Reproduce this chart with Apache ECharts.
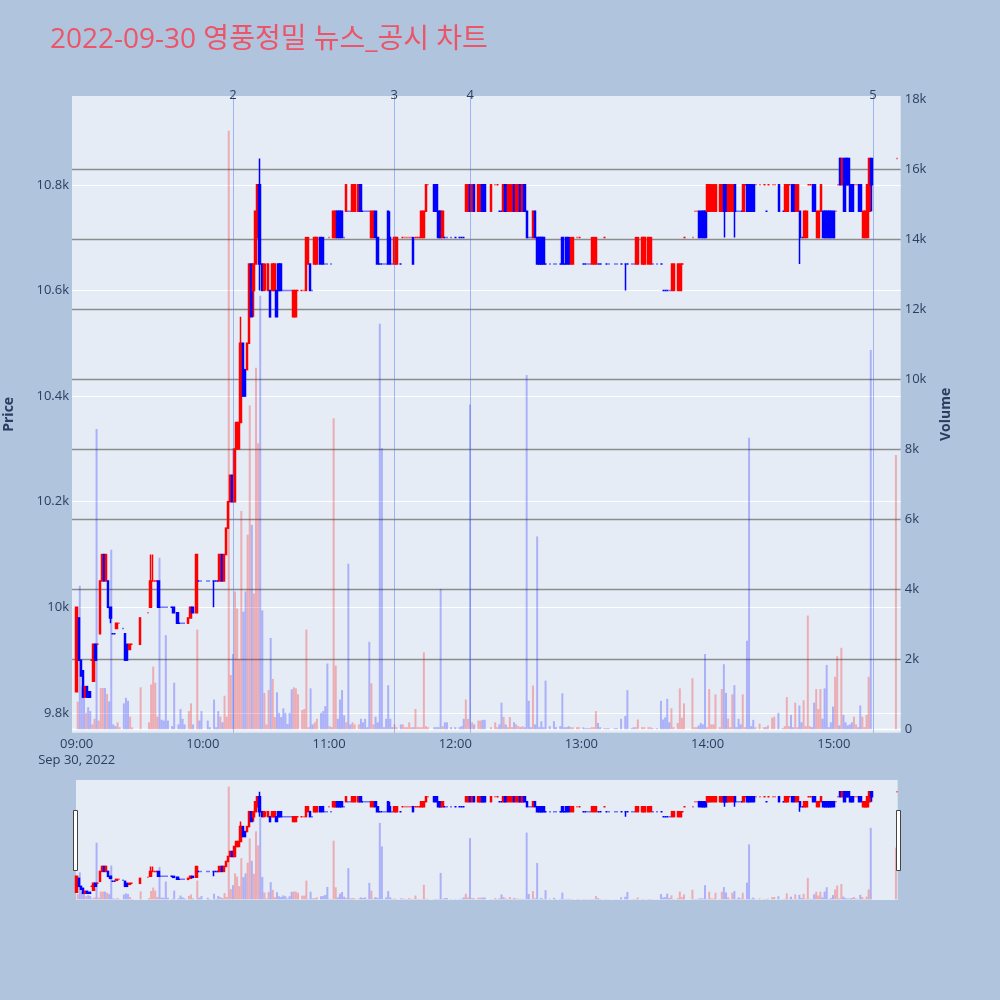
<!DOCTYPE html>
<html><head><meta charset="utf-8">
<script src="https://cdn.jsdelivr.net/npm/echarts@6/dist/echarts.min.js"></script>
<style>html,body{margin:0;padding:0;background:#B0C4DE;}#c{width:1000px;height:1000px;}</style>
</head><body><div id="c"></div>
<script>
const chartTitle = '2022-09-30 영풍정밀 뉴스_공시 차트';
const dateLabel = 'Sep 30, 2022';
// rows: [time, open, close, low, high, volume]
const s09 = [
['09:00',9840,10000,9840,10000,790],['09:01',9980,9900,9900,9980,4100],['09:02',9900,9870,9870,9900,1230],
['09:03',9880,9830,9830,9880,900],['09:04',9830,9850,9830,9850,470],['09:05',9850,9830,9830,9850,630],
['09:06',9840,9830,9830,9840,520],['09:07',9900,9900,9900,9900,140],['09:08',9860,9930,9860,9930,300],
['09:09',9930,9900,9900,9930,8580],['09:10',9930,9930,9930,9930,250],['09:11',9950,10050,9950,10050,1180],
['09:12',10050,10100,10050,10100,1180],['09:13',10100,10050,10050,10100,1180],['09:14',10050,10100,10050,10100,1010],
['09:15',10050,10000,10000,10050,800],['09:16',10000,9980,9970,10000,5130],['09:17',9950,9950,9950,9950,140],
['09:18',9950,9950,9950,9950,90],['09:19',9960,9970,9960,9970,200],['09:20',9970,9970,9970,9970,60],
['09:22',9960,9960,9960,9960,740],['09:23',9950,9900,9900,9950,900],['09:24',9930,9900,9900,9930,815],
['09:25',9920,9930,9920,9930,360],['09:26',9930,9930,9930,9930,56],['09:30',9930,9980,9930,9980,1200],
['09:34',9990,9990,9990,9990,200],['09:35',10000,10050,10000,10100,1280],['09:36',10050,10050,10050,10100,1790],
['09:37',10050,10050,10050,10050,1330],['09:38',10050,10050,10050,10050,360],['09:39',10050,10000,10000,10050,4900],
['09:40',10000,10000,10000,10000,275],['09:41',10000,10000,10000,10000,250],['09:42',10000,10000,10000,10000,2690],
['09:43',10000,10000,10000,10000,250],['09:45',10000,10000,10000,10000,90],['09:46',10000,9990,9990,10000,1330],
['09:48',9990,9970,9970,9990,140],['09:49',9970,9970,9970,9970,580],['09:50',9970,9970,9970,9970,300],
['09:51',9970,9970,9970,9970,140],['09:53',9970,9980,9970,9980,520],['09:54',9980,10000,9980,10000,740],
['09:55',10000,9990,9990,10000,140],['09:57',9990,10100,9990,10100,2850],['09:58',10050,10050,10050,10050,250],
['09:59',10050,10050,10050,10050,520]
];
const s10 = [
['10:02',10050,10050,10050,10050,250],['10:03',10050,10050,10050,10050,60],['10:05',10050,10050,10000,10050,850],
['10:06',10050,10050,10050,10050,60],['10:07',10050,10050,10050,10050,520],['10:08',10050,10100,10050,10100,360],
['10:09',10100,10050,10050,10100,200],['10:10',10050,10100,10050,10100,960],['10:11',10100,10150,10100,10150,360],
['10:12',10150,10200,10150,10200,17100],['10:13',10200,10250,10200,10250,1550],['10:14',10250,10200,10200,10250,2150],
['10:15',10200,10300,10200,10300,3940],['10:16',10300,10350,10300,10350,3450],['10:17',10300,10350,10300,10350,2000],
['10:18',10350,10500,10350,10550,6240],['10:19',10500,10400,10400,10500,3360],['10:20',10450,10400,10400,10450,3940],
['10:21',10450,10500,10450,10500,5560],['10:22',10500,10650,10500,10650,9250],['10:23',10650,10550,10550,10650,5840],
['10:24',10600,10650,10550,10650,3880],['10:25',10650,10750,10650,10750,10330],['10:26',10700,10800,10700,10800,8170],
['10:27',10800,10650,10600,10850,12390],['10:28',10650,10600,10600,10650,3400],['10:29',10600,10650,10600,10650,1040],
['10:30',10650,10650,10600,10650,140],['10:31',10600,10650,10600,10650,1120],['10:32',10600,10550,10550,10600,2610],
['10:33',10600,10650,10600,10650,1440],['10:34',10600,10650,10600,10650,350],['10:35',10600,10550,10550,10600,1060],
['10:36',10650,10600,10600,10650,470],['10:37',10650,10600,10600,10650,350],['10:38',10600,10600,10600,10600,600],
['10:39',10600,10600,10600,10600,470],['10:40',10600,10600,10600,10600,150],['10:41',10600,10600,10600,10600,470],
['10:42',10600,10600,10600,10600,1140],['10:43',10550,10600,10550,10600,1200],['10:44',10550,10600,10550,10600,1170],
['10:45',10600,10600,10600,10600,1000],['10:47',10600,10600,10600,10600,550],['10:48',10600,10600,10600,10600,580],
['10:49',10600,10700,10600,10700,2850],['10:50',10650,10700,10650,10700,60],['10:51',10650,10600,10600,10650,1170],
['10:52',10600,10600,10600,10600,140],['10:53',10650,10700,10650,10700,200],['10:54',10650,10700,10650,10700,300],
['10:56',10700,10650,10650,10700,470],['10:57',10700,10650,10650,10700,520],['10:58',10650,10650,10650,10650,660],
['10:59',10650,10650,10650,10650,1880]
];
const s11 = [
['11:00',10700,10700,10700,10700,90],['11:01',10650,10650,10650,10650,60],['11:02',10700,10750,10700,10750,8890],
['11:03',10700,10750,10700,10750,1820],['11:04',10750,10700,10700,10750,300],['11:05',10750,10700,10700,10750,850],
['11:06',10750,10700,10700,10750,1120],['11:07',10700,10700,10700,10700,400],['11:08',10750,10800,10750,10800,200],
['11:09',10750,10750,10750,10750,4730],['11:10',10750,10750,10750,10750,140],['11:11',10750,10800,10750,10800,200],
['11:12',10750,10800,10750,10800,140],['11:14',10750,10800,10750,10800,140],['11:15',10800,10750,10750,10800,300],
['11:16',10750,10750,10750,10750,200],['11:17',10750,10750,10750,10750,300],['11:18',10750,10750,10750,10750,60],
['11:19',10750,10750,10750,10750,2500],['11:20',10700,10750,10700,10750,1310],['11:21',10700,10750,10700,10750,140],
['11:22',10750,10700,10700,10750,360],['11:23',10700,10650,10650,10700,200],['11:24',10650,10650,10650,10650,11590],
['11:25',10650,10650,10650,10650,8030],['11:26',10650,10650,10650,10650,60],['11:27',10650,10650,10650,10650,300],
['11:28',10750,10650,10650,10750,1260],['11:29',10700,10650,10650,10750,300],['11:30',10650,10650,10650,10650,60],
['11:31',10650,10700,10650,10700,140],['11:32',10650,10700,10650,10700,60],['11:34',10650,10650,10650,10650,140],
['11:35',10700,10700,10700,10700,140],['11:36',10700,10700,10700,10700,60],['11:37',10700,10700,10700,10700,60],
['11:38',10700,10700,10700,10700,200],['11:39',10700,10700,10700,10700,60],['11:40',10700,10650,10650,10700,60],
['11:41',10700,10700,10700,10700,580],['11:42',10700,10700,10700,10700,60],['11:43',10700,10700,10700,10700,60],
['11:44',10700,10750,10700,10750,60],['11:45',10700,10750,10700,10750,2200],['11:46',10750,10800,10750,10800,90],
['11:47',10800,10800,10800,10800,60],['11:50',10800,10750,10750,10800,60],['11:51',10800,10750,10750,10800,60],
['11:52',10750,10700,10700,10750,60],['11:53',10750,10700,10700,10750,4010],['11:54',10700,10750,10700,10750,90],
['11:55',10700,10700,10700,10700,200],['11:56',10700,10700,10700,10700,200],['11:58',10700,10700,10700,10700,60]
];
const s12 = [
['12:00',10700,10700,10700,10700,60],['12:02',10700,10700,10700,10700,60],['12:03',10700,10700,10700,10700,90],
['12:04',10700,10700,10700,10700,300],['12:05',10750,10800,10750,10800,850],['12:06',10750,10800,10750,10800,300],
['12:07',10800,10750,10750,10800,9280],['12:08',10750,10800,10750,10800,200],['12:09',10800,10750,10750,10800,140],
['12:11',10750,10800,10750,10800,250],['12:12',10750,10800,10750,10800,250],['12:13',10800,10750,10750,10800,270],
['12:14',10800,10750,10750,10800,270],['12:17',10750,10800,10750,10800,60],['12:19',10800,10800,10800,10800,200],
['12:20',10800,10800,10800,10800,60],['12:21',10750,10750,10750,10750,140],['12:22',10750,10750,10750,10750,760],
['12:23',10750,10800,10750,10800,350],['12:24',10800,10750,10750,10800,140],['12:25',10750,10800,10750,10800,60],
['12:26',10750,10800,10750,10800,350],['12:27',10750,10800,10750,10800,60],['12:28',10800,10750,10750,10800,200],
['12:29',10750,10800,10750,10800,140],['12:30',10750,10800,10750,10800,90],['12:31',10800,10750,10750,10800,60],
['12:32',10750,10800,10750,10800,90],['12:33',10800,10750,10750,10800,60],['12:34',10750,10700,10700,10750,10120],
['12:35',10700,10700,10700,10700,815],['12:36',10700,10700,10700,10700,60],['12:37',10700,10750,10700,10750,1250],
['12:38',10750,10700,10700,10750,140],['12:39',10700,10650,10650,10700,5510],['12:40',10700,10650,10650,10700,60],
['12:41',10700,10650,10650,10700,230],['12:42',10700,10650,10650,10700,60],['12:43',10650,10650,10650,10650,1390],
['12:45',10650,10650,10650,10650,90],['12:47',10650,10650,10650,10650,230],['12:48',10650,10650,10650,10650,60],
['12:50',10650,10650,10650,10650,90],['12:51',10700,10650,10650,10700,1030],['12:52',10650,10650,10650,10650,60],
['12:53',10700,10650,10650,10700,60],['12:54',10700,10650,10650,10700,90],['12:55',10650,10700,10650,10700,60],
['12:56',10650,10700,10650,10700,56],['12:58',10700,10700,10700,10700,60],['12:59',10700,10700,10700,10700,60]
];
const s13 = [
['13:01',10650,10650,10650,10650,56],['13:02',10650,10650,10650,10650,30],['13:03',10650,10650,10650,10650,30],
['13:04',10650,10650,10650,10650,30],['13:05',10650,10700,10650,10700,60],['13:06',10650,10700,10650,10700,60],
['13:07',10650,10700,10650,10700,520],['13:08',10650,10650,10650,10650,180],['13:09',10650,10650,10650,10650,60],
['13:11',10700,10700,10700,10700,30],['13:12',10650,10650,10650,10650,30],['13:13',10650,10650,10650,10650,30],
['13:16',10650,10650,10650,10650,30],['13:17',10650,10650,10650,10650,30],['13:19',10650,10650,10650,10650,300],
['13:21',10650,10650,10600,10650,380],['13:22',10650,10650,10650,10650,1120],['13:24',10650,10650,10650,10650,30],
['13:25',10650,10650,10650,10650,60],['13:26',10650,10700,10650,10700,60],['13:27',10650,10700,10650,10700,280],
['13:29',10650,10700,10650,10700,60],['13:30',10650,10700,10650,10700,60],['13:32',10650,10700,10650,10700,60],
['13:33',10650,10700,10650,10700,60],['13:34',10650,10650,10650,10650,30],['13:36',10650,10650,10650,10650,30],
['13:38',10650,10650,10650,10650,815],['13:39',10600,10600,10600,10600,280],['13:40',10600,10600,10600,10600,340],
['13:41',10600,10600,10600,10600,870],['13:42',10600,10600,10600,10600,200],['13:43',10600,10650,10600,10650,600],
['13:44',10600,10650,10600,10650,60],['13:46',10600,10650,10600,10650,180],['13:47',10600,10650,10600,10650,1170],
['13:48',10650,10650,10650,10650,330],['13:49',10700,10700,10700,10700,740],['13:53',10700,10700,10700,10700,1460],
['13:54',10750,10750,10750,10750,60],['13:55',10750,10750,10750,10750,60],['13:56',10750,10700,10700,10750,110],
['13:57',10750,10700,10700,10750,180],['13:58',10750,10700,10700,10750,140],['13:59',10750,10700,10700,10750,2150]
];
const s14 = [
['14:00',10750,10800,10750,10800,60],['14:01',10750,10800,10750,10800,1150],['14:02',10750,10800,10750,10800,140],
['14:03',10750,10800,10750,10800,140],['14:04',10750,10800,10750,10800,1000],['14:06',10750,10800,10750,10800,60],
['14:07',10750,10800,10750,10800,1150],['14:08',10800,10750,10700,10800,1860],['14:09',10800,10750,10750,10800,1040],
['14:10',10750,10800,10750,10800,300],['14:11',10750,10800,10750,10800,60],['14:12',10750,10800,10750,10800,1000],
['14:13',10800,10750,10700,10800,1260],['14:14',10750,10750,10750,10750,60],['14:15',10750,10750,10750,10750,300],
['14:16',10750,10750,10750,10750,140],['14:17',10750,10800,10750,10800,1000],['14:18',10800,10800,10800,10800,60],
['14:19',10800,10750,10750,10800,2530],['14:20',10800,10750,10750,10800,8330],['14:21',10800,10750,10750,10800,90],
['14:22',10800,10750,10750,10800,270],['14:23',10800,10800,10800,10800,60],['14:25',10800,10800,10800,10800,160],
['14:27',10800,10800,10800,10800,60],['14:28',10750,10750,10750,10750,60],['14:29',10800,10800,10800,10800,110],
['14:31',10800,10800,10800,10800,330],['14:32',10800,10800,10800,10800,360],['14:34',10800,10750,10750,10800,470],
['14:36',10750,10750,10750,10750,30],['14:37',10750,10800,10750,10800,90],['14:38',10750,10800,10750,10800,920],
['14:39',10800,10800,10800,10800,90],['14:40',10800,10750,10750,10800,410],['14:41',10800,10750,10750,10800,60],
['14:42',10750,10800,10750,10800,760],['14:43',10750,10800,10750,10800,60],['14:44',10750,10700,10650,10750,680],
['14:45',10700,10700,10700,10700,200],['14:46',10700,10750,10700,10750,830],['14:47',10700,10750,10700,10750,90],
['14:48',10800,10800,10800,10800,3250],['14:49',10800,10800,10800,10800,90],['14:50',10800,10750,10750,10800,60],
['14:51',10800,10750,10750,10800,760],['14:52',10700,10750,10700,10750,1150],['14:53',10700,10750,10700,10750,580],
['14:54',10750,10800,10750,10800,1150],['14:55',10750,10700,10700,10750,300],['14:56',10750,10700,10700,10750,1170],
['14:57',10750,10700,10700,10750,1840],['14:58',10750,10700,10700,10750,60],['14:59',10750,10700,10700,10750,200]
];
const s15 = [
['15:00',10750,10700,10700,10750,650],['15:01',10750,10750,10750,10750,1500],['15:02',10800,10800,10800,10800,2090],
['15:03',10850,10800,10800,10850,110],['15:04',10800,10850,10800,10850,2330],['15:05',10850,10750,10750,10850,410],
['15:06',10850,10800,10800,10850,200],['15:07',10850,10800,10800,10850,110],['15:08',10800,10750,10750,10800,140],
['15:09',10800,10750,10750,10800,200],['15:10',10800,10800,10800,10800,360],['15:11',10800,10800,10800,10800,140],
['15:12',10800,10750,10750,10800,60],['15:13',10800,10750,10750,10800,680],['15:14',10700,10750,10700,10750,360],
['15:15',10700,10750,10700,10750,60],['15:16',10700,10800,10700,10800,410],['15:17',10750,10850,10750,10850,1500],
['15:18',10850,10800,10750,10850,10840],['15:30',10850,10850,10850,10850,7840]
];
const newsTimes = ['10:14:15','11:31:00','12:07:10','15:18:35'];
const newsLabels = ['2','3','4','5'];

const rows = [].concat(s09, s10, s11, s12, s13, s14, s15);
function ts(t) { const p = t.split(':').map(Number); return new Date(2022, 8, 30, p[0], p[1], p[2] || 0).getTime(); }
const xMin = ts('08:57:46'), xMax = ts('15:31:48');

const UP = '#ff0000', DOWN = '#0000ff';
const UPV = 'rgba(255,0,0,0.27)', DOWNV = 'rgba(0,0,255,0.25)';
let prevClose = null, prevInc = true;
const candleData = [], volData = [];
rows.forEach(function (r) {
  const t = r[0], o = r[1], c = r[2], l = r[3], h = r[4], v = r[5];
  let inc;
  if (c > o) inc = true; else if (c < o) inc = false;
  else if (prevClose !== null && c !== prevClose) inc = c > prevClose;
  else inc = prevInc;
  prevInc = inc; prevClose = c;
  const col = inc ? UP : DOWN;
  const x = ts(t);
  candleData.push({ value: [x, o, c, l, h], itemStyle: { color: col, color0: col, borderColor: col, borderColor0: col } });
  volData.push({ value: [x, v], itemStyle: { color: inc ? UPV : DOWNV } });
});

const FONT = "'Open Sans', 'Noto Sans CJK KR', sans-serif";
const TXT = '#2a3f5f';
const hiddenX = function (gi) { return { type: 'time', gridIndex: gi, min: xMin, max: xMax, show: false }; };
const G = { left: 72, right: 99.3, outerBoundsMode: 'none', containLabel: false };

const chart = echarts.init(document.getElementById('c'), null, { renderer: 'canvas' });
chart.setOption({
  animation: false,
  backgroundColor: '#B0C4DE',
  textStyle: { fontFamily: FONT },
  title: { text: chartTitle, left: 45, top: 21, textStyle: { color: '#ec5468', fontSize: 28, fontWeight: 'normal', fontFamily: FONT } },
  grid: [
    Object.assign({}, G, { top: 96, bottom: 267.3, show: true, backgroundColor: '#E5ECF6', borderWidth: 0 }),
    Object.assign({}, G, { top: 79.16, bottom: 181.36 }),
    Object.assign({}, G, { top: 99.3, bottom: 270.7 }),
    Object.assign({}, G, { top: 780, bottom: 100 }),
    Object.assign({}, G, { top: 780, bottom: 100 }),
    Object.assign({}, G, { left: 76, right: 102.3, top: 780, bottom: 100, show: true, backgroundColor: '#E5ECF6', borderWidth: 0 })
  ],
  xAxis: [
    { type: 'time', gridIndex: 0, min: xMin, max: xMax, minInterval: 3600000, maxInterval: 3600000,
      axisLine: { show: false }, axisTick: { show: false }, splitLine: { show: false },
      axisLabel: { color: TXT, fontSize: 13, margin: 4, lineHeight: 16, hideOverlap: false,
        formatter: function (v) {
          const d = new Date(v);
          if (d.getMinutes() !== 0 || d.getSeconds() !== 0) return '';
          const s = String(d.getHours()).padStart(2, '0') + ':00';
          return d.getHours() === 9 ? s + '\n' + dateLabel : s;
        } } },
    hiddenX(1), hiddenX(2), hiddenX(3), hiddenX(4), hiddenX(5)
  ],
  yAxis: [
    { type: 'value', gridIndex: 0, min: 0, max: 1, position: 'left', axisLabel: { show: false }, axisLine: { show: false }, axisTick: { show: false }, splitLine: { show: false },
      name: 'Price', nameLocation: 'middle', nameGap: 56, nameRotate: 90, nameTextStyle: { color: TXT, fontSize: 14, fontWeight: 'bold' } },
    { type: 'value', gridIndex: 0, min: 0, max: 1, position: 'right', axisLabel: { show: false }, axisLine: { show: false }, axisTick: { show: false }, splitLine: { show: false },
      name: 'Volume', nameLocation: 'middle', nameGap: 38, nameRotate: 90, nameTextStyle: { color: TXT, fontSize: 14, fontWeight: 'bold' } },
    { type: 'value', gridIndex: 1, min: 9600, max: 11000, interval: 200, position: 'left',
      axisLine: { show: false }, axisTick: { show: false },
      axisLabel: { color: TXT, fontSize: 13, margin: 3, formatter: function (v) { return (v <= 9600 || v >= 11000) ? '' : (v / 1000) + 'k'; } },
      splitLine: { show: true, lineStyle: { width: 1, color: ['rgba(0,0,0,0)', '#ffffff', '#ffffff', '#ffffff', '#ffffff', '#ffffff', '#ffffff', 'rgba(0,0,0,0)'] } } },
    { type: 'value', gridIndex: 2, min: 0, max: 18000, interval: 2000, position: 'right',
      axisLine: { show: false }, axisTick: { show: false },
      axisLabel: { color: TXT, fontSize: 13, margin: 4, formatter: function (v) { return v === 0 ? '0' : (v / 1000) + 'k'; } },
      splitLine: { show: true, lineStyle: { width: 1.3, color: ['#ffffff', '#8c8c8c', '#8c8c8c', '#8c8c8c', '#8c8c8c', '#8c8c8c', '#8c8c8c', '#8c8c8c', '#8c8c8c', 'rgba(0,0,0,0)'] } } },
    { type: 'value', gridIndex: 3, min: 9762.7, max: 10968, show: false },
    { type: 'value', gridIndex: 4, min: -97, max: 18094, show: false },
    { type: 'value', gridIndex: 5, min: 0, max: 1, show: false }
  ],
  series: [
    { type: 'line', xAxisIndex: 0, yAxisIndex: 0, data: [], silent: true,
      markLine: { silent: true, symbol: ['none', 'none'], animation: false,
        lineStyle: { color: 'rgba(70,110,235,0.45)', width: 1, type: 'solid' },
        label: { show: true, position: 'end', formatter: '{b}', color: TXT, fontSize: 13, distance: -6 },
        data: newsTimes.map(function (t, i) { return { name: newsLabels[i], xAxis: ts(t) }; }) } },
    { type: 'bar', name: 'Volume', xAxisIndex: 2, yAxisIndex: 3, data: volData, barWidth: 2, silent: true, z: 2 },
    { type: 'candlestick', name: 'Price', xAxisIndex: 1, yAxisIndex: 2, data: candleData, barWidth: 2, silent: true, z: 3,
      itemStyle: { color: UP, color0: DOWN, borderColor: UP, borderColor0: DOWN, borderWidth: 1.5 } },
    { type: 'bar', xAxisIndex: 4, yAxisIndex: 5, data: volData, barWidth: 2, silent: true, z: 2 },
    { type: 'candlestick', xAxisIndex: 3, yAxisIndex: 4, data: candleData, barWidth: 2, silent: true, z: 3,
      itemStyle: { color: UP, color0: DOWN, borderColor: UP, borderColor0: DOWN, borderWidth: 1.5 } }
  ],
  graphic: [
    { type: 'rect', shape: { x: 73.5, y: 810.5, width: 4, height: 60 }, style: { fill: '#ffffff', stroke: '#444444', lineWidth: 1 }, z: 10 },
    { type: 'rect', shape: { x: 896.5, y: 810.5, width: 4, height: 60 }, style: { fill: '#ffffff', stroke: '#444444', lineWidth: 1 }, z: 10 }
  ]
});
</script></body></html>
